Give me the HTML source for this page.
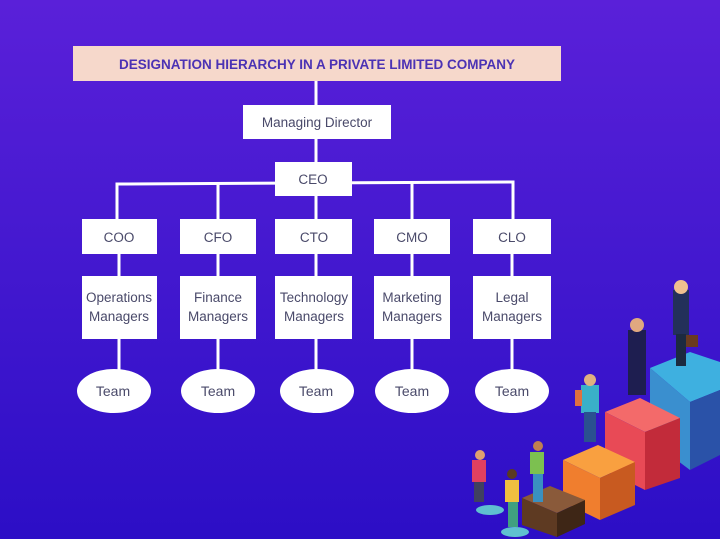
<!DOCTYPE html>
<html><head><meta charset="utf-8"><style>
html,body{margin:0;padding:0}
body{width:720px;height:539px;overflow:hidden;background:linear-gradient(180deg,#5a20d9 0%,#4519d0 45%,#2c0ec6 100%);font-family:"Liberation Sans",sans-serif}
svg{display:block}
</style></head><body>
<svg width="720" height="539" viewBox="0 0 720 539" xmlns="http://www.w3.org/2000/svg" font-family="Liberation Sans, sans-serif">
<g stroke="#fff" stroke-width="3" fill="none">
<line x1="316" y1="81" x2="316" y2="105"/>
<line x1="316" y1="139" x2="316" y2="162"/>
<polyline points="117,219 117,184 513,182 513,219"/>
<line x1="218" y1="184" x2="218" y2="219"/>
<line x1="412" y1="183" x2="412" y2="219"/>
<line x1="316" y1="196" x2="316" y2="219"/>
<line x1="119" y1="254" x2="119" y2="276"/><line x1="119" y1="339" x2="119" y2="372"/>
<line x1="218" y1="254" x2="218" y2="276"/><line x1="218" y1="339" x2="218" y2="372"/>
<line x1="316" y1="254" x2="316" y2="276"/><line x1="316" y1="339" x2="316" y2="372"/>
<line x1="412" y1="254" x2="412" y2="276"/><line x1="412" y1="339" x2="412" y2="372"/>
<line x1="512" y1="254" x2="512" y2="276"/><line x1="512" y1="339" x2="512" y2="372"/>
</g>
<rect x="73" y="46" width="488" height="35" fill="#f6d8cb"/>
<text x="317" y="69" text-anchor="middle" font-size="13.5" font-weight="bold" fill="#4b32b4">DESIGNATION HIERARCHY IN A PRIVATE LIMITED COMPANY</text>
<g fill="#fff">
<rect x="243" y="105" width="148" height="34"/>
<rect x="275" y="162" width="77" height="34"/>
<rect x="82" y="219" width="75" height="35"/><rect x="180" y="219" width="76" height="35"/><rect x="275" y="219" width="77" height="35"/><rect x="374" y="219" width="76" height="35"/><rect x="473" y="219" width="78" height="35"/>
<rect x="82" y="276" width="75" height="63"/><rect x="180" y="276" width="76" height="63"/><rect x="275" y="276" width="77" height="63"/><rect x="374" y="276" width="76" height="63"/><rect x="473" y="276" width="78" height="63"/>
<ellipse cx="114" cy="391" rx="37" ry="22"/><ellipse cx="218" cy="391" rx="37" ry="22"/><ellipse cx="317" cy="391" rx="37" ry="22"/><ellipse cx="412" cy="391" rx="37" ry="22"/><ellipse cx="512" cy="391" rx="37" ry="22"/>
</g>
<g fill="#4a4a6a" font-size="13.5" text-anchor="middle">
<text x="317" y="127">Managing Director</text>
<text x="313" y="184">CEO</text>
<text x="119" y="242">COO</text><text x="218" y="242">CFO</text><text x="314" y="242">CTO</text><text x="412" y="242">CMO</text><text x="512" y="242">CLO</text>
<text x="119" y="302">Operations</text><text x="119" y="321">Managers</text>
<text x="218" y="302">Finance</text><text x="218" y="321">Managers</text>
<text x="314" y="302">Technology</text><text x="314" y="321">Managers</text>
<text x="412" y="302">Marketing</text><text x="412" y="321">Managers</text>
<text x="512" y="302">Legal</text><text x="512" y="321">Managers</text>
<g font-size="14"><text x="113" y="396">Team</text><text x="218" y="396">Team</text><text x="316" y="396">Team</text><text x="412" y="396">Team</text><text x="512" y="396">Team</text></g>
</g>
<!-- steps -->
<polygon points="650,368 690,352 720,362 720,390 690,402" fill="#3eb0e0"/>
<polygon points="650,368 690,402 690,470 650,440" fill="#3a8fcf"/>
<polygon points="690,402 720,390 720,455 690,470" fill="#2a52a8"/>
<polygon points="605,412 640,398 680,418 645,432" fill="#f36a6a"/>
<polygon points="605,412 645,432 645,490 605,470" fill="#e84a56"/>
<polygon points="645,432 680,418 680,478 645,490" fill="#c22b3a"/>
<polygon points="563,460 598,445 635,462 600,478" fill="#f9a040"/>
<polygon points="563,460 600,478 600,520 563,502" fill="#f07e2e"/>
<polygon points="600,478 635,462 635,505 600,520" fill="#c85a20"/>
<polygon points="522,498 550,486 585,500 557,513" fill="#8a5a3a"/>
<polygon points="522,498 557,513 557,537 522,525" fill="#5e3a22"/>
<polygon points="557,513 585,500 585,524 557,537" fill="#3e2616"/>
<g>
<rect x="673" y="290" width="16" height="45" fill="#23305a"/><rect x="676" y="334" width="10" height="32" fill="#1c2a40"/><circle cx="681" cy="287" r="7" fill="#f0c090"/><rect x="686" y="335" width="12" height="12" fill="#6a3a20"/>
<rect x="628" y="330" width="18" height="65" fill="#1e1e50"/><circle cx="637" cy="325" r="7" fill="#e0a880"/>
<rect x="581" y="385" width="18" height="28" fill="#3ab0c8"/><rect x="584" y="412" width="12" height="30" fill="#2a5090"/><circle cx="590" cy="380" r="6" fill="#e0b080"/><rect x="575" y="390" width="7" height="16" fill="#e07040"/>
<rect x="530" y="452" width="14" height="22" fill="#7cc050"/><rect x="533" y="474" width="10" height="28" fill="#3a90c0"/><circle cx="538" cy="446" r="5" fill="#c08050"/>
<rect x="472" y="460" width="14" height="22" fill="#e04060"/><rect x="474" y="482" width="10" height="20" fill="#404060"/><circle cx="480" cy="455" r="5" fill="#e0a070"/>
<rect x="505" y="480" width="14" height="22" fill="#f0c040"/><rect x="508" y="502" width="10" height="25" fill="#40a080"/><circle cx="512" cy="474" r="5" fill="#5a3a20"/>
<ellipse cx="490" cy="510" rx="14" ry="5" fill="#5fc0d0"/><ellipse cx="515" cy="532" rx="14" ry="5" fill="#5fc0d0"/>
</g>
</svg>
</body></html>
